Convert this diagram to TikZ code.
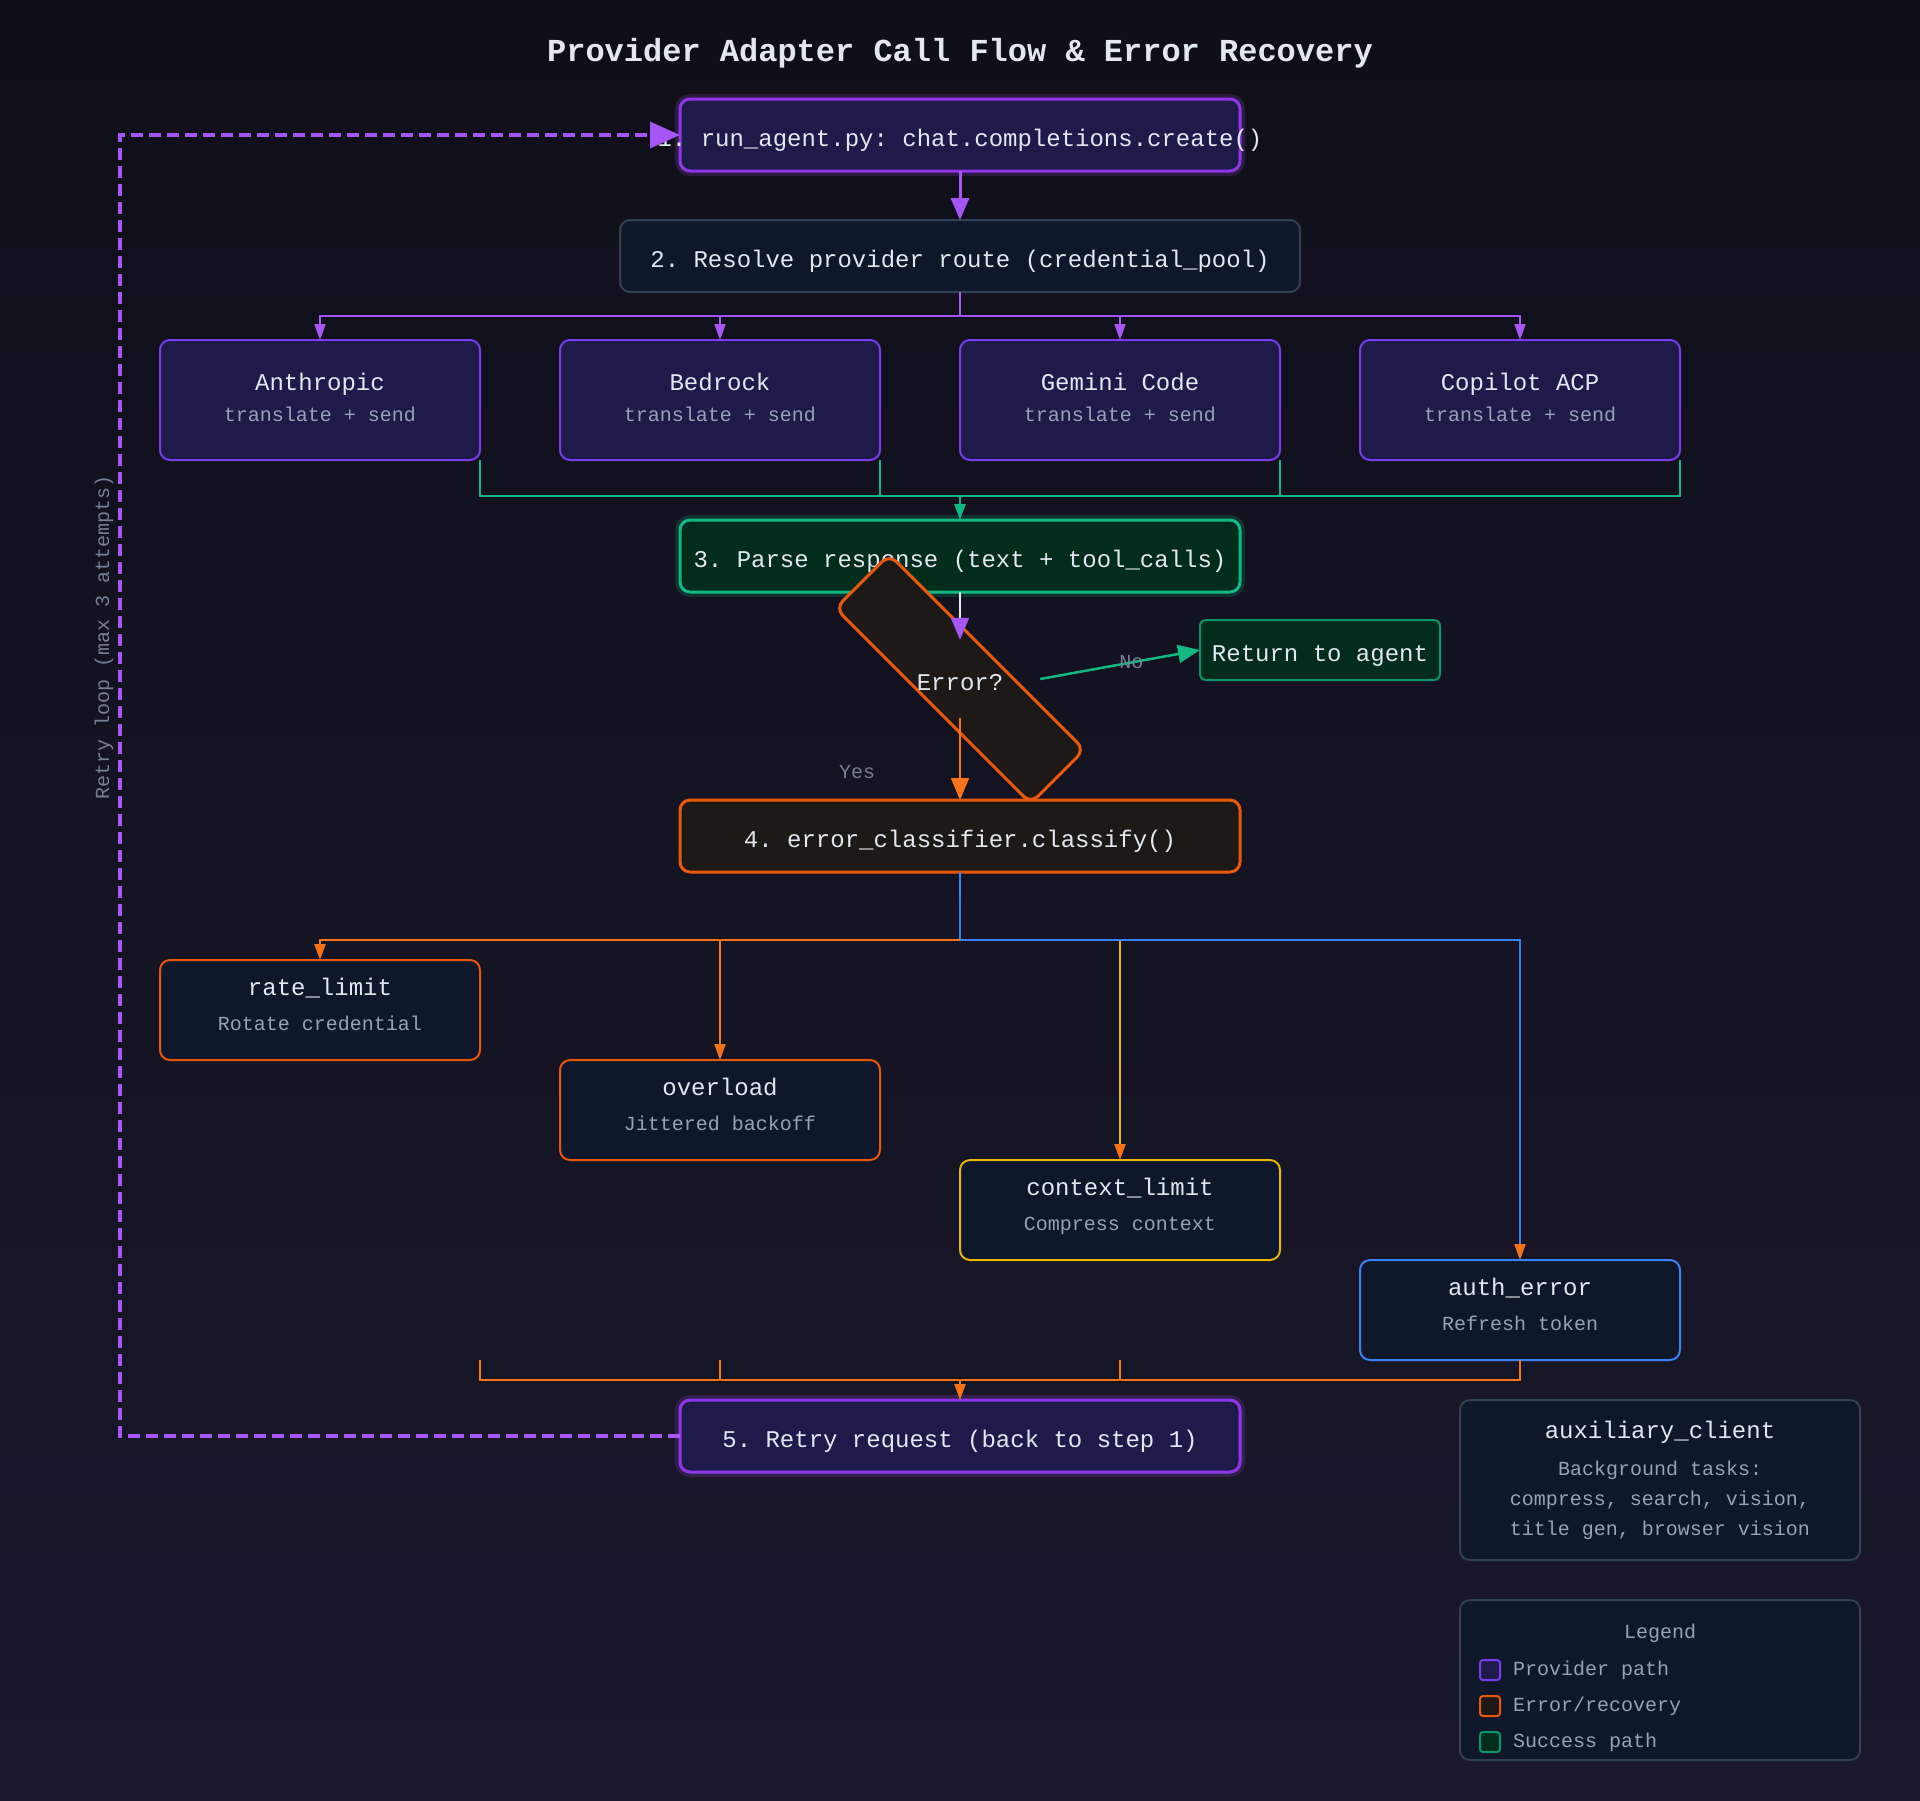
\documentclass[tikz,border=0pt]{standalone}
\usepackage{fontspec}
\setmainfont{Liberation Mono}
\setmonofont{Liberation Mono}
\usepackage{tikz}
\usetikzlibrary{arrows.meta, positioning, calc}
\definecolor{bgTop}{RGB}{15,15,25}
\definecolor{bgBot}{RGB}{26,24,43}
\definecolor{vPurple}{RGB}{168,85,247}
\definecolor{runEdge}{RGB}{147,51,234}
\definecolor{provEdge}{RGB}{124,58,237}
\definecolor{provFill}{RGB}{30,27,75}
\definecolor{navyFill}{RGB}{15,23,42}
\definecolor{slateEdge}{RGB}{51,65,85}
\definecolor{okGreen}{RGB}{16,185,129}
\definecolor{okEdge}{RGB}{5,150,105}
\definecolor{okFill}{RGB}{2,44,28}
\definecolor{errOrange}{RGB}{234,88,12}
\definecolor{tipOrange}{RGB}{249,115,22}
\definecolor{errFill}{RGB}{28,25,23}
\definecolor{ctxYellow}{RGB}{234,179,8}
\definecolor{authBlue}{RGB}{59,130,246}
\definecolor{txtWhite}{RGB}{226,232,240}
\definecolor{subGray}{RGB}{148,163,184}
\definecolor{dimGray}{RGB}{118,128,148}
\newcommand{\subtxt}{\fontsize{20}{24}\selectfont\color{subGray}}

\begin{document}
\frenchspacing
\begin{tikzpicture}[
  x=1pt, y=1pt,
  box/.style={
    rectangle,
    rounded corners=10pt,
    draw,
    line width=2pt,
    inner sep=0pt,
    outer sep=0pt,
    align=center,
    text=txtWhite,
    font=\fontsize{24}{30}\selectfont
  },
  oneline/.style={text height=22pt, text depth=0pt},
  stepbox/.style={box, oneline, minimum width=560pt, minimum height=72pt},
  glow/.style={preaction={draw=#1, line width=10pt, draw opacity=.18}},
  provider/.style={box, draw=provEdge, fill=provFill, text height=42pt, text depth=0pt,
    minimum width=320pt, minimum height=120pt},
  errcase/.style={box, fill=navyFill, text height=40pt, text depth=0pt,
    minimum width=320pt, minimum height=100pt},
  panel/.style={box, draw=slateEdge, fill=navyFill,
    minimum width=400pt, minimum height=160pt},
  decision/.style={
    rectangle,
    rounded corners=10pt,
    rotate=-45,
    draw=errOrange,
    fill=errFill,
    line width=3pt,
    minimum width=276pt,
    minimum height=76pt
  },
  swatch/.style={rectangle, rounded corners=3pt, line width=2pt,
    minimum size=20pt, inner sep=0pt, outer sep=0pt},
  lbl/.style={font=\fontsize{20}{24}\selectfont, text=dimGray, inner sep=0pt},
  flow/.style={draw=vPurple, line width=2pt,
    -{Triangle[width=11pt, length=16pt]}},
  bigflow/.style={draw=vPurple, line width=3pt,
    -{Triangle[width=18pt, length=22pt]}},
  okline/.style={draw=okGreen, line width=2pt},
  okflow/.style={okline, -{Triangle[width=11pt, length=16pt]}},
  errline/.style={draw=tipOrange, line width=2pt},
  errflow/.style={errline, -{Triangle[width=11pt, length=16pt]}},
  caseflow/.style={line width=2pt,
    -{Triangle[width=11pt, length=16pt, color=tipOrange]}},
  loopline/.style={draw=vPurple, line width=3.5pt, dash pattern=on 12pt off 6pt,
    -{Triangle[width=26pt, length=30pt]}},
]

\shade[top color=bgTop, bottom color=bgBot] (0,0) rectangle (1920,-1800);
\useasboundingbox (0,0) rectangle (1920,-1800);

\node[text=txtWhite, font=\fontsize{32}{38}\selectfont\bfseries]
(title) at (960,-53) {Provider Adapter Call Flow \& Error Recovery};

\node[stepbox, draw=runEdge, line width=3pt, fill=provFill, glow=vPurple]
(run) at (960,-135) {\makebox[0pt]{1. run\_agent.py: chat.completions.create()}};

\node[stepbox, minimum width=680pt, draw=slateEdge, fill=navyFill, below=49pt of run]
(route) {2. Resolve provider route (credential\_pool)};

\node[provider] (anth) at (320,-400) {Anthropic\\[1pt]{\subtxt translate + send}};
\node[provider, right=80pt of anth] (bedr) {Bedrock\\[1pt]{\subtxt translate + send}};
\node[provider, right=80pt of bedr] (gem) {Gemini Code\\[1pt]{\subtxt translate + send}};
\node[provider, right=80pt of gem] (cop) {Copilot ACP\\[1pt]{\subtxt translate + send}};

\node[stepbox, draw=okGreen, line width=3pt, fill=okFill, glow=okGreen, below=228pt of route]
(parse) {3. Parse response (text + tool\_calls)};

\node[decision] (err) at (960,-679) {};
\node[text=txtWhite, font=\fontsize{24}{30}\selectfont, inner sep=0pt, oneline,
  minimum width=160pt, minimum height=78pt] (errq) at (err.center) {Error?};

\node[box, oneline, draw=okEdge, fill=okFill, rounded corners=6pt,
  minimum width=240pt, minimum height=60pt] (ret) at (1320,-650) {Return to agent};

\node[stepbox, draw=errOrange, line width=3pt, fill=errFill, below=208pt of parse]
(classify) {4. error\_classifier.classify()};

\node[errcase, draw=errOrange] (rate) at (320,-1010)
  {rate\_limit\\[5pt]{\subtxt Rotate credential}};
\node[errcase, draw=errOrange, below right=0pt and 80pt of rate] (over)
  {overload\\[5pt]{\subtxt Jittered backoff}};
\node[errcase, draw=ctxYellow, below right=0pt and 80pt of over] (ctx)
  {context\_limit\\[5pt]{\subtxt Compress context}};
\node[errcase, draw=authBlue, below right=0pt and 80pt of ctx] (auth)
  {auth\_error\\[5pt]{\subtxt Refresh token}};

\node[stepbox, draw=runEdge, line width=3pt, fill=provFill, glow=vPurple, below=528pt of classify]
(retry) {5. Retry request (back to step 1)};

\node[panel] (aux) at (1660,-1480)
  {auxiliary\_client\\[7pt]{\subtxt Background tasks:}\\{\subtxt compress, search, vision,}\\{\subtxt title gen, browser vision}};

\node[panel, below=40pt of aux] (legend) {};
\node[lbl, text=subGray] (legtitle) at ($(legend.north)+(0,-33)$) {Legend};
\node[swatch, draw=provEdge, fill=provFill] (swprov) at ($(legend.north west)+(30,-70)$) {};
\node[swatch, draw=errOrange, fill=errFill, below=16pt of swprov] (swerr) {};
\node[swatch, draw=okEdge, fill=okFill, below=16pt of swerr] (swok) {};
\node[lbl, text=subGray, right=13pt of swprov] (txprov) {Provider path};
\node[lbl, text=subGray, right=13pt of swerr] (txerr) {Error/recovery};
\node[lbl, text=subGray, right=13pt of swok] (txok) {Success path};

\draw[bigflow] (run) -- (route);
\foreach \p in {anth, bedr, gem, cop}
  \draw[flow] (route.south) -- ++(0,-24) -| (\p.north);

\coordinate (okjoin) at (960,-496);
\foreach \p in {anth, bedr, gem, cop}
  \draw[okline] (\p.south east) |- (okjoin);
\draw[okflow] (okjoin) -- (parse);

\draw[draw=txtWhite, line width=2pt,
  -{Triangle[width=18pt, length=22pt, color=vPurple]}] (parse) -- (errq);
\draw[errline, -{Triangle[width=18pt, length=22pt]}] (errq) -- (classify)
  node[lbl, pos=.66, xshift=-103pt] (yes) {Yes};
\draw[okline, line width=2.5pt, -{Triangle[width=18pt, length=22pt]}] (errq.east) -- (ret.west)
  node[lbl, pos=.57] (no) {No};

\coordinate (fan) at (960,-940);
\draw[draw=authBlue, line width=2pt] (classify) -- (fan);
\draw[errflow] (fan) -| (rate.north);
\draw[errflow] (fan) -| (over.north);
\draw[caseflow, draw=ctxYellow] (fan) -| (ctx.north);
\draw[caseflow, draw=authBlue] (fan) -| (auth.north);

\coordinate (retjoin) at (960,-1380);
\draw[errline] (rate.south east |- auth.south) |- (retjoin);
\draw[errline] (over.south |- auth.south) |- (retjoin);
\draw[errline] (ctx.south |- auth.south) |- (retjoin);
\draw[errline] (auth.south) |- (retjoin);
\draw[errflow] (retjoin) -- (retry);

\draw[loopline] (retry.west) -- ++(-560,0) |- (run.west);
\node[lbl, rotate=90] (looptxt) at (104,-637) {Retry loop (max 3 attempts)};

\end{tikzpicture}
\end{document}
